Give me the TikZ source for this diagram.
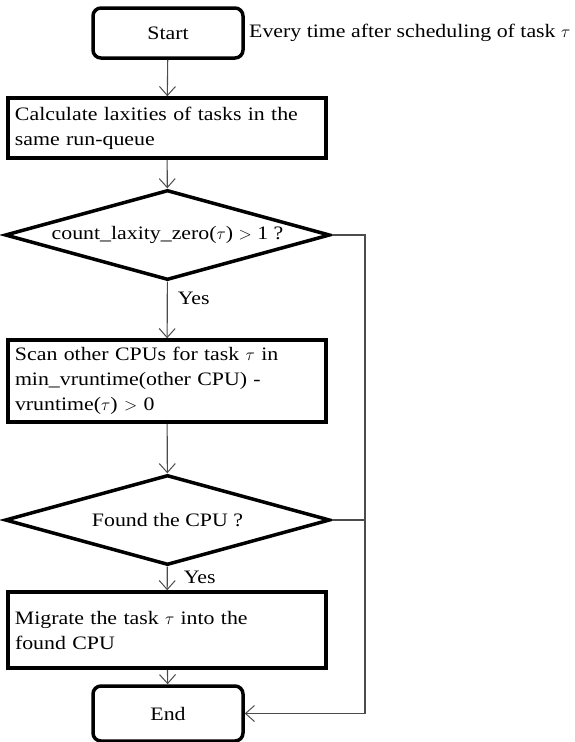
\documentclass[tikz,border=0pt]{standalone}
\usepackage{fontspec}
\setmainfont{Liberation Serif}[FakeStretch=1.15]
\usetikzlibrary{shapes.geometric,arrows.meta}
\tikzset{
  every node/.style={font=\fontsize{19}{25}\selectfont},
  term/.style={draw, line width=3.5pt, rounded corners=8pt, minimum width=150pt, inner sep=0pt},
  proc/.style={draw, line width=3.5pt, minimum width=318pt, text width=304pt, align=left, inner sep=7pt},
  dec/.style={draw, line width=3.5pt, diamond, aspect=3.6, minimum width=325pt, minimum height=90pt, inner sep=0pt},
  conn/.style={draw=black!70, line width=1.1pt, -{Straight Barb[length=9pt,width=16pt,line width=1pt]}},
  lbl/.style={anchor=west, inner sep=0pt}
}
\begin{document}
\begin{tikzpicture}[x=1pt,y=-1pt]
\useasboundingbox (0,0) rectangle (574,742);
\node[term, minimum height=50pt] (start) at (168,33) {Start};
\node[lbl] (note) at (249,33) {Every time after scheduling of task $\tau$};
\node[proc, minimum height=60pt] (b1) at (167,128) {Calculate laxities of tasks in the\\ same run-queue};
\node[dec] (d1) at (167.5,235) {count\_laxity\_zero($\tau$) $>$ 1 ?};
\node[proc, minimum height=82pt] (b2) at (167,381) {Scan other CPUs for task $\tau$ in\\ min\_vruntime(other CPU) -\\ vruntime($\tau$) $>$ 0};
\node[dec] (d2) at (167.5,520) {Found the CPU ?};
\node[proc, minimum height=76pt] (b3) at (167,630) {Migrate the task $\tau$ into the\\ found CPU};
\node[term, minimum height=55pt] (end) at (168,713.5) {End};
\coordinate (r1) at (365,235);
\coordinate (r3) at (365,713.5);
\draw[conn] (start) -- (b1);
\draw[conn] (b1) -- (d1);
\draw[conn] (d1) -- node[lbl, pos=0.3, right=10pt] {Yes} (b2);
\draw[conn] (b2) -- (d2);
\draw[conn] (d2) -- node[lbl, pos=0.45, right=16pt] {Yes} (b3);
\draw[conn] (b3) -- (end);
\draw[conn] (d1.east) -- (r1) -- (r3) -- (end.east);
\draw[draw=black!70, line width=1.1pt] (d2.east) -- (d2.east -| r1);
\end{tikzpicture}
\end{document}
